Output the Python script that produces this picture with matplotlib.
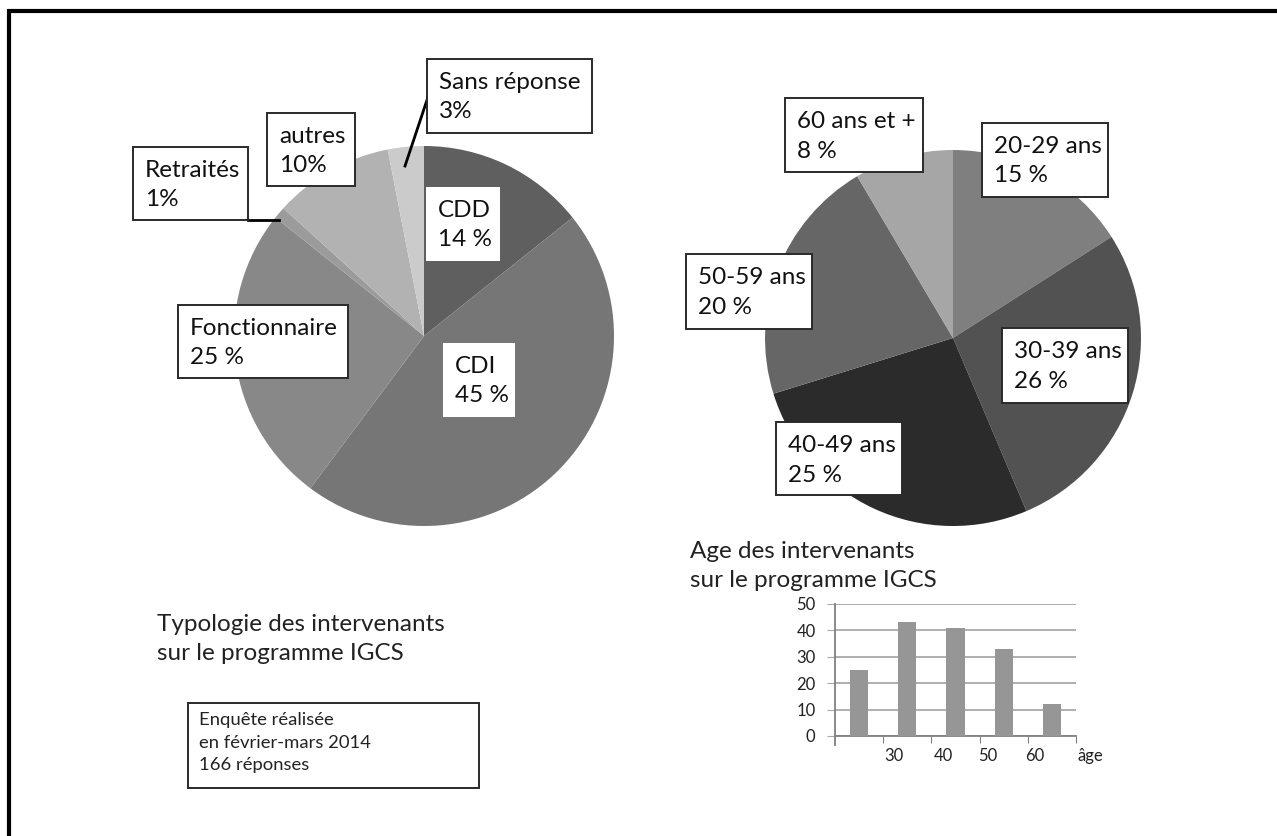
import matplotlib
matplotlib.use("Agg")
import matplotlib.pyplot as plt
from matplotlib.patches import Rectangle

plt.rcParams['font.family'] = ['Lato', 'DejaVu Sans']

# data
statut_labels = ['CDD', 'CDI', 'Fonctionnaire', 'Retraités', 'autres', 'Sans réponse']
statut_pct = [14, 45, 25, 1, 10, 3]
statut_txt = ['14 %', '45 %', '25 %', '1%', '10%', '3%']
statut_colors = ['#5f5f5f', '#767676', '#888888', '#9b9b9b', '#b2b2b2', '#cbcbcb']

age_labels = ['20-29 ans', '30-39 ans', '40-49 ans', '50-59 ans', '60 ans et +']
age_pct = [15, 26, 25, 20, 8]
age_txt = ['15 %', '26 %', '25 %', '20 %', '8 %']
age_colors = ['#7f7f7f', '#525252', '#2b2b2b', '#666666', '#a6a6a6']

bar_counts = [25, 43, 41, 33, 12]
bar_ticklabels = ['30', '40', '50', '60', 'âge']

W, H = 1277, 836
fig = plt.figure(figsize=(W / 100, H / 100), dpi=100)


def px_axes(left, top, w, h, **kw):
    return fig.add_axes([left / W, 1 - (top + h) / H, w / W, h / H], **kw)


# background layer in pixel coordinates
bg = px_axes(0, 0, W, H)
bg.set_xlim(0, W)
bg.set_ylim(H, 0)
bg.axis('off')
bg.plot([8, W], [10.5, 10.5], color='black', lw=3, solid_capstyle='butt')
bg.plot([8.5, 8.5], [9, H], color='black', lw=3, solid_capstyle='butt')

# pies
ax1 = px_axes(424 - 190, 336 - 190, 380, 380)
ax1.pie(statut_pct, colors=statut_colors, startangle=90, counterclock=False,
        wedgeprops=dict(linewidth=0))
ax1.set_xlim(-1, 1)
ax1.set_ylim(-1, 1)

ax2 = px_axes(953 - 188, 338 - 188, 376, 376)
ax2.pie(age_pct, colors=age_colors, startangle=90, counterclock=False,
        wedgeprops=dict(linewidth=0))
ax2.set_xlim(-1, 1)
ax2.set_ylim(-1, 1)

# overlay for boxes / text, in pixels
over = px_axes(0, 0, W, H)
over.set_xlim(0, W)
over.set_ylim(H, 0)
over.axis('off')
over.patch.set_alpha(0)
over.plot([428, 405], [97, 166], color='black', lw=2)
over.plot([248, 279], [220, 220], color='black', lw=2)


def label_box(x0, y0, x1, y1, text, edge=True, size=17.5, pad=12):
    over.add_patch(Rectangle((x0, y0), x1 - x0, y1 - y0, facecolor='white',
                             edgecolor='#2a2a2a' if edge else 'none', lw=1.4, zorder=3))
    over.text(x0 + pad, y0 + 13, text, ha='left', va='top', fontsize=size,
              color='#111111', linespacing=1.5, zorder=4)


# boxes for the typology pie
box1 = {
    'CDD': (426, 187, 500, 261, False),
    'CDI': (443, 343, 515, 417, False),
    'Fonctionnaire': (178, 305, 348, 378, True),
    'Retraités': (133, 147, 248, 220, True),
    'autres': (267, 113, 355, 186, True),
    'Sans réponse': (427, 59, 592, 133, True),
}
for lab, txt in zip(statut_labels, statut_txt):
    x0, y0, x1, y1, e = box1[lab]
    label_box(x0, y0, x1, y1, lab + '\n' + txt, edge=e)

box2 = {
    '20-29 ans': (982, 123, 1108, 197),
    '30-39 ans': (1002, 328, 1128, 403),
    '40-49 ans': (776, 422, 902, 495),
    '50-59 ans': (686, 254, 812, 329),
    '60 ans et +': (785, 98, 923, 172),
}
for lab, txt in zip(age_labels, age_txt):
    x0, y0, x1, y1 = box2[lab]
    label_box(x0, y0, x1, y1, lab + '\n' + txt)

# titles
over.text(157, 614, 'Typologie des intervenants\nsur le programme IGCS', ha='left', va='top',
          fontsize=17.5, color='#222222', linespacing=1.5)
over.text(690, 541, 'Age des intervenants\nsur le programme IGCS', ha='left', va='top',
          fontsize=17.5, color='#222222', linespacing=1.45)

over.add_patch(Rectangle((188, 703), 291, 85, facecolor='white', edgecolor='#2a2a2a', lw=1.4))
over.text(199, 712, 'Enquête réalisée\nen février-mars 2014\n166 réponses', ha='left', va='top',
          fontsize=13.3, color='#222222', linespacing=1.5)

# bar chart
ax3 = px_axes(835, 604, 241, 132)
x = list(range(len(bar_counts)))
ax3.bar(x, bar_counts, width=0.38, color='#969696', zorder=3)
ax3.set_xlim(-0.5, len(bar_counts) - 0.5)
ax3.set_ylim(0, 50)
ax3.set_yticks(range(0, 51, 10))
ax3.yaxis.grid(True, color='#a8a8a8', lw=1.3, zorder=0)
bounds = [i + 0.5 for i in x]
ax3.set_xticks(bounds)
ax3.set_xticklabels([''] * len(bounds))
shifts = [11, 12, 8, 7, 14]
for b, lab, dx in zip(bounds, bar_ticklabels, shifts):
    ax3.annotate(lab, xy=(b, 0), xycoords=('data', 'axes fraction'),
                 xytext=(dx, -20), textcoords='offset pixels', ha='center', va='center',
                 fontsize=12, color='#222222', annotation_clip=False)
ax3.tick_params(axis='x', length=5, color='#808080')
ax3.tick_params(axis='y', length=6, color='#a8a8a8', labelsize=12, pad=8, colors='#222222')
ax3.tick_params(axis='y', color='#a8a8a8')
for s in ['top', 'right']:
    ax3.spines[s].set_visible(False)
for s in ['left', 'bottom']:
    ax3.spines[s].set_color('#808080')
    ax3.spines[s].set_linewidth(1.3)
ax3.spines['left'].set_bounds(-3.5, 50)

fig.savefig('out.png', dpi=100)
